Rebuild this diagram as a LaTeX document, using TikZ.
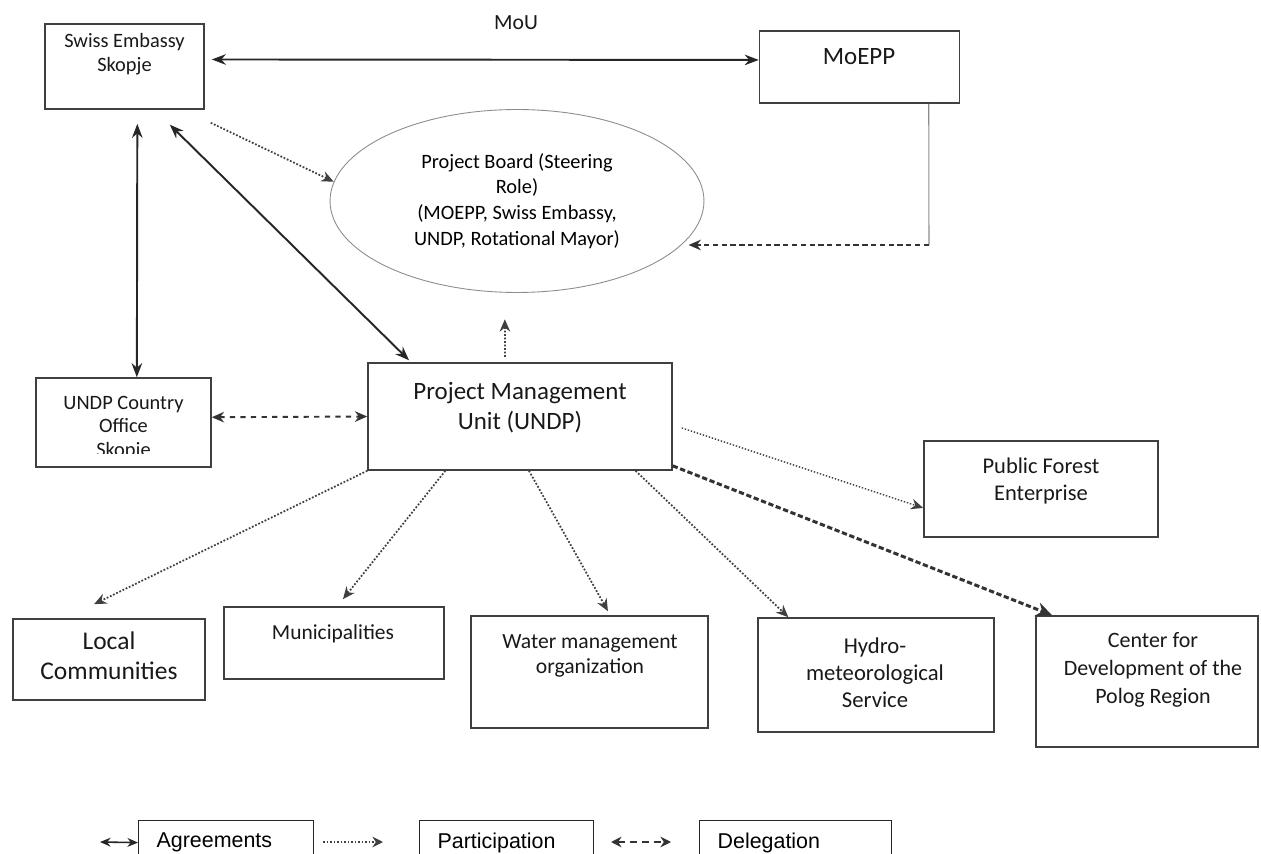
\documentclass[tikz,border=0pt]{standalone}
\usepackage{fontspec}
\setmainfont{Carlito}
\newfontfamily\legendfont{Liberation Sans}
\usetikzlibrary{arrows.meta,shapes.geometric}

\newcommand{\fsz}[2]{\fontsize{#1}{#2}\selectfont}

\tikzset{
	box/.style={draw=black!75, line width=0.9pt, inner sep=0pt},
	txt/.style={align=center, inner sep=0pt, text=black!90},
	agree/.style={{Stealth[length=8pt,width=6pt]}-{Stealth[length=8pt,width=6pt]}, line width=1.1pt, draw=black!85},
	partic/.style={-{Stealth[length=7pt,width=6pt]}, densely dotted, line width=1pt, draw=black!75},
	deleg/.style={dashed, line width=1.1pt, draw=black!80},
	legbox/.style={draw=black!85, line width=0.7pt, anchor=north west, minimum height=0.88cm, inner xsep=0.36cm, inner ysep=0pt, align=left, font=\legendfont\fsz{12.2}{14}}
}

\begin{document}
\begin{tikzpicture}[x=0.02cm, y=-0.02cm]
	\path[use as bounding box] (0,0) rectangle (1261,854);
	\clip (0,0) rectangle (1261,854);
	\fill[white] (0,0) rectangle (1261,854);

	% top row
	\node[box, minimum width=3.18cm, minimum height=1.70cm] (swiss) at (124.5,66.5) {};
	\node[txt, font=\fsz{11.6}{13.8}] (swiss-t) at (124.5,54) {Swiss Embassy\\Skopje};
	\node[box, minimum width=4.00cm, minimum height=1.44cm] (moepp) at (859.5,67) {};
	\node[txt, font=\fsz{14.2}{17}] (moepp-t) at (859,57) {MoEPP};
	\node[txt, font=\fsz{12.3}{15}] (mou) at (516,23) {MoU};
	\node[ellipse, draw=black!45, line width=0.5pt, minimum width=7.48cm, minimum height=3.66cm, inner sep=0pt, align=center, font=\fsz{11.6}{14.7}] (board) at (517,201)
		{Project Board (Steering\\Role)\\(MOEPP, Swiss Embassy,\\UNDP, Rotational Mayor)};

	% middle row
	\node[box, minimum width=3.50cm, minimum height=1.78cm] (undpco) at (123.5,422.5) {};
	\begin{scope}
		\clip (36,380) rectangle (211,454);
		\node[txt, font=\fsz{11.6}{13.3}] (undpco-t) at (123.5,428) {UNDP Country\\Office\\Skopje};
	\end{scope}
	\node[box, minimum width=6.08cm, minimum height=2.14cm] (pmu) at (520,416.5) {};
	\node[txt, font=\fsz{14.2}{17}] (pmu-t) at (520,408) {Project Management\\Unit (UNDP)};
	\node[box, minimum width=4.68cm, minimum height=1.92cm] (forest) at (1041,489) {};
	\node[txt, font=\fsz{12.8}{15.9}] (forest-t) at (1041,481) {Public Forest\\Enterprise};

	% bottom row
	\node[box, minimum width=3.84cm, minimum height=1.62cm] (local) at (109,659.5) {};
	\node[txt, font=\fsz{14.5}{17}] (local-t) at (109,656) {Local\\Communities};
	\node[box, minimum width=4.40cm, minimum height=1.44cm] (munic) at (334,643) {};
	\node[txt, font=\fsz{12.2}{15}] (munic-t) at (333,634) {Municipalities};
	\node[box, minimum width=4.74cm, minimum height=2.24cm] (water) at (589.5,672) {};
	\node[txt, font=\fsz{12.3}{14.7}] (water-t) at (590,656) {Water management\\organization};
	\node[box, minimum width=4.72cm, minimum height=2.28cm] (hydro) at (876,675) {};
	\node[txt, font=\fsz{12.9}{15.3}] (hydro-t) at (875,673) {Hydro-\\meteorological\\Service};
	\node[box, minimum width=4.44cm, minimum height=2.62cm] (cdpr) at (1147,681.5) {};
	\node[txt, font=\fsz{12.5}{15.9}] (cdpr-t) at (1153,670) {Center for\\Development of the\\Polog Region};

	% agreements
	\draw[agree, shorten <=4pt] (swiss.5) -- (moepp.176);
	\draw[agree] ([shift={(7.3pt,-8pt)}]swiss.south) -- ([xshift=7.6pt]undpco.north);
	\draw[agree] ([shift={(25.8pt,-8.5pt)}]swiss.south) -- ([shift={(23.8pt,1.1pt)}]pmu.north west);

	% participation
	\draw[partic] ([shift={(3.4pt,-7.4pt)}]swiss.south east) -- (board.174);
	\draw[partic, shorten <=3pt, shorten >=15pt] ([xshift=-8.5pt]pmu.north) -- ([xshift=-7pt]board.south);
	\draw[partic] (pmu.south west) -- ([shift={(-8.5pt,8pt)}]local.north);
	\draw[partic] ([xshift=-42.5pt]pmu.south) -- ([shift={(5.1pt,4pt)}]munic.north);
	\draw[partic] ([xshift=5.1pt]pmu.south) -- ([shift={(10.5pt,2.3pt)}]water.north);
	\draw[partic] ([xshift=65.8pt]pmu.south) -- ([xshift=-49.9pt]hydro.north);
	\draw[partic, line width=0.8pt] ([shift={(5.1pt,-6.5pt)}]pmu.east) -- ([yshift=-10.8pt]forest.west);

	% delegation
	\coordinate (mcorner) at (929,245);
	\draw[black!45, line width=0.6pt] ([xshift=39.4pt]moepp.south) -- (mcorner);
	\draw[deleg, densely dashed, -{Stealth[length=7pt,width=6pt]}, shorten >=-9pt] (mcorner) -- (mcorner -| board.east);
	\draw[deleg, {Stealth[length=7pt,width=6pt]}-{Stealth[length=7pt,width=6pt]}] ([yshift=3pt]undpco.east) -- (pmu.west);
	\draw[deleg, line width=1.7pt, dash pattern=on 3pt off 1.5pt, -{Stealth[length=9pt,width=8pt]}] ([yshift=2.8pt]pmu.south east) -- ([xshift=9.6pt]cdpr.north west);

	% legend
	\node[legbox, minimum width=3.50cm, text width=2.78cm] (lagree) at (138,820) {Agreements};
	\node[legbox, minimum width=3.48cm, text width=2.76cm] (lpartic) at (419,820) {Participation};
	\node[legbox, minimum width=3.84cm, text width=3.12cm] (ldeleg) at (699,820) {Delegation};
	\coordinate (ka) at (100,842);
	\coordinate (kp1) at (323,842);
	\coordinate (kp2) at (383,842);
	\coordinate (kd1) at (611,842);
	\coordinate (kd2) at (671,842);
	\draw[agree, line width=0.9pt, {Stealth[length=6pt,width=5pt]}-{Stealth[length=6pt,width=5pt]}] (ka) -- (lagree.west);
	\draw[partic, -{Stealth[length=6pt,width=6pt]}] (kp1) -- (kp2);
	\draw[deleg, line width=1pt, dash pattern=on 4pt off 3pt, {Stealth[length=6pt,width=6pt]}-{Stealth[length=6pt,width=6pt]}] (kd1) -- (kd2);
\end{tikzpicture}
\end{document}
